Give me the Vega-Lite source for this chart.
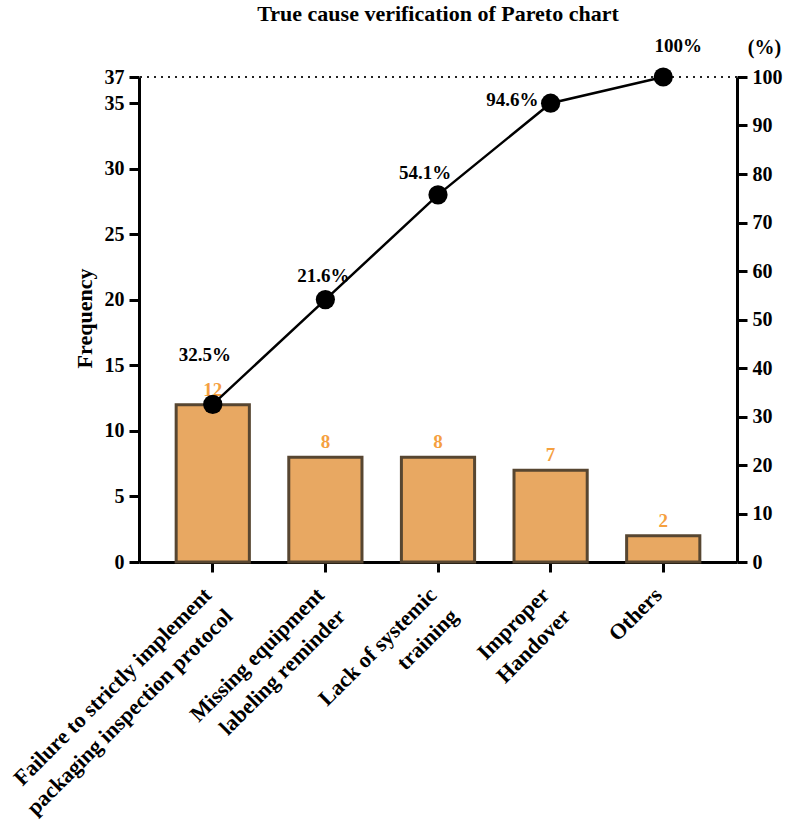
{
  "$schema": "https://vega.github.io/schema/vega-lite/v6.json",
  "width": 598,
  "height": 485,
  "autosize": {"type": "none"},
  "padding": {"left": 139, "top": 77, "right": 50, "bottom": 263},
  "background": "white",
  "title": {
    "text": "True cause verification of Pareto chart",
    "font": "Liberation Serif",
    "fontSize": 22,
    "fontWeight": "bold",
    "color": "black",
    "anchor": "middle",
    "frame": "group",
    "baseline": "alphabetic",
    "offset": -6
  },
  "config": {
    "font": "Liberation Serif",
    "view": {"stroke": null},
    "axis": {
      "domainColor": "black",
      "domainWidth": 3,
      "tickColor": "black",
      "tickWidth": 3,
      "tickSize": 10,
      "labelColor": "black",
      "labelFont": "Liberation Serif",
      "labelFontWeight": "bold",
      "titleFont": "Liberation Serif",
      "titleFontWeight": "bold",
      "titleColor": "black",
      "grid": false
    }
  },
  "data": {
    "values": [
      {"cause": "Failure to strictly implement packaging inspection protocol", "count": 12, "cum": 32.5, "label": "32.5%"},
      {"cause": "Missing equipment labeling reminder", "count": 8, "cum": 54.1, "label": "21.6%"},
      {"cause": "Lack of systemic training", "count": 8, "cum": 75.7, "label": "54.1%"},
      {"cause": "Improper Handover", "count": 7, "cum": 94.6, "label": "94.6%"},
      {"cause": "Others", "count": 2, "cum": 100, "label": "100%"}
    ]
  },
  "layer": [
    {
      "data": {"values": [{}]},
      "mark": {"type": "rule", "stroke": "#222222", "strokeWidth": 2, "strokeDash": [2, 5]},
      "encoding": {
        "y": {"datum": 100, "type": "quantitative", "scale": {"domain": [0, 100], "nice": false}, "axis": null}
      }
    },
    {
      "encoding": {
        "x": {
          "field": "cause",
          "type": "nominal",
          "sort": null,
          "title": null,
          "scale": {"paddingInner": 0.35, "paddingOuter": 0.33},
          "axis": {
            "labelAngle": -45,
            "labelAlign": "right",
            "labelBaseline": "middle",
            "labelFontSize": 22,
            "labelLineHeight": 30,
            "labelPadding": 19,
            "labelOffset": -5,
            "labelLimit": 500,
            "labelOverlap": false,
            "labelFlush": false,
            "labelExpr": "datum.value == 'Failure to strictly implement packaging inspection protocol' ? ['Failure to strictly implement', 'packaging inspection protocol'] : datum.value == 'Missing equipment labeling reminder' ? ['Missing equipment', 'labeling reminder'] : datum.value == 'Lack of systemic training' ? ['Lack of systemic', 'training'] : datum.value == 'Improper Handover' ? ['Improper', 'Handover'] : datum.label"
          }
        },
        "y": {
          "field": "count",
          "type": "quantitative",
          "scale": {"domain": [0, 37], "nice": false},
          "axis": {
            "orient": "left",
            "values": [0, 5, 10, 15, 20, 25, 30, 35, 37],
            "labelFontSize": 20,
            "labelPadding": 5,
            "title": "Frequency",
            "titleFontSize": 22,
            "titleAngle": -90,
            "titleX": -55,
            "titleY": 241,
            "titleAlign": "center",
            "titleBaseline": "middle"
          }
        }
      },
      "layer": [
        {
          "mark": {"type": "bar", "fill": "#E8A862", "stroke": "#574631", "strokeWidth": 3}
        },
        {
          "mark": {"type": "text", "baseline": "alphabetic", "dy": -9, "fontSize": 19, "fontWeight": "bold", "fill": "#F5A03F"},
          "encoding": {"text": {"field": "count", "type": "quantitative"}}
        }
      ]
    },
    {
      "encoding": {
        "x": {"field": "cause", "type": "nominal", "sort": null, "title": null},
        "y": {
          "field": "cum",
          "type": "quantitative",
          "scale": {"domain": [0, 100], "nice": false},
          "axis": {
            "orient": "right",
            "values": [0, 10, 20, 30, 40, 50, 60, 70, 80, 90, 100],
            "labelFontSize": 20,
            "labelPadding": 5,
            "title": "(%)",
            "titleFontSize": 20,
            "titleAngle": 0,
            "titleX": 27,
            "titleY": -24,
            "titleAlign": "center",
            "titleBaseline": "alphabetic"
          }
        }
      },
      "layer": [
        {"mark": {"type": "line", "stroke": "black", "strokeWidth": 2.5}},
        {"mark": {"type": "point", "filled": true, "fill": "black", "stroke": null, "size": 370, "opacity": 1}},
        {
          "transform": [{"filter": "datum.cause == 'Failure to strictly implement packaging inspection protocol'"}],
          "mark": {"type": "text", "baseline": "alphabetic", "align": "center", "dx": -8, "dy": -43, "fontSize": 19, "fontWeight": "bold", "fill": "black"},
          "encoding": {"text": {"field": "label"}}
        },
        {
          "transform": [{"filter": "datum.cause == 'Missing equipment labeling reminder'"}],
          "mark": {"type": "text", "baseline": "alphabetic", "align": "center", "dx": -2, "dy": -18, "fontSize": 19, "fontWeight": "bold", "fill": "black"},
          "encoding": {"text": {"field": "label"}}
        },
        {
          "transform": [{"filter": "datum.cause == 'Lack of systemic training'"}],
          "mark": {"type": "text", "baseline": "alphabetic", "align": "center", "dx": -13, "dy": -16, "fontSize": 19, "fontWeight": "bold", "fill": "black"},
          "encoding": {"text": {"field": "label"}}
        },
        {
          "transform": [{"filter": "datum.cause == 'Improper Handover'"}],
          "mark": {"type": "text", "baseline": "alphabetic", "align": "right", "dx": -12, "dy": 3, "fontSize": 19, "fontWeight": "bold", "fill": "black"},
          "encoding": {"text": {"field": "label"}}
        },
        {
          "transform": [{"filter": "datum.cause == 'Others'"}],
          "mark": {"type": "text", "baseline": "alphabetic", "align": "center", "dx": 15, "dy": -25, "fontSize": 19, "fontWeight": "bold", "fill": "black"},
          "encoding": {"text": {"field": "label"}}
        }
      ]
    }
  ],
  "resolve": {"scale": {"y": "independent"}}
}
